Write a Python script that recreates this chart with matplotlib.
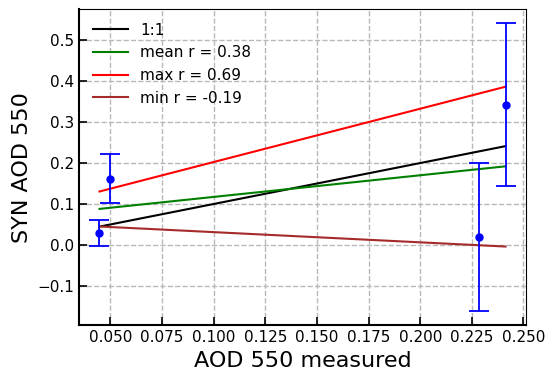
import numpy as np
import matplotlib.pyplot as plt

# Valores medidos vs sintéticos (AOD 550)
aod_med = [0.0447, 0.0500, 0.2286, 0.2413]
aod_syn = [0.0285, 0.1620, 0.0200, 0.3430]
aod_err = [0.0320, 0.0605, 0.1810, 0.1980]

# Extremos de las rectas de ajuste
x_fit = [0.0447, 0.2413]
y_mean = [0.0880, 0.1920]
y_max = [0.1305, 0.3865]
y_min = [0.0450, -0.0040]

fig, ax = plt.subplots(figsize=(5.5, 3.79), dpi=100)
ax.plot(x_fit, x_fit, color='black', lw=1.5, label="1:1")
ax.plot(x_fit, y_mean, color='green', lw=1.5, label="mean r = 0.38")
ax.plot(x_fit, y_max, color='red', lw=1.5, label="max r = 0.69")
ax.plot(x_fit, y_min, color='brown', lw=1.5, label="min r = -0.19")
ax.errorbar(aod_med, aod_syn, yerr=aod_err, fmt='o', color='blue',
            ms=5, capsize=7.5, elinewidth=1.3, capthick=1.3)

ax.set_xlabel("AOD 550 measured", fontsize=16)
ax.set_ylabel("SYN AOD 550", fontsize=16)
ax.tick_params(direction='in', labelsize=11, length=6, width=1.2)
ax.set_xticks(np.arange(0.05, 0.2501, 0.025))
ax.grid(True, linestyle='--', color='#b8b8b8', lw=1)
for s in ['left', 'bottom']:
    ax.spines[s].set_linewidth(1.5)
ax.legend(loc='upper left', frameon=False, fontsize=11, handlelength=2.3)
plt.subplots_adjust(left=0.144, right=0.956, top=0.976, bottom=0.142)
plt.savefig("out.png")
